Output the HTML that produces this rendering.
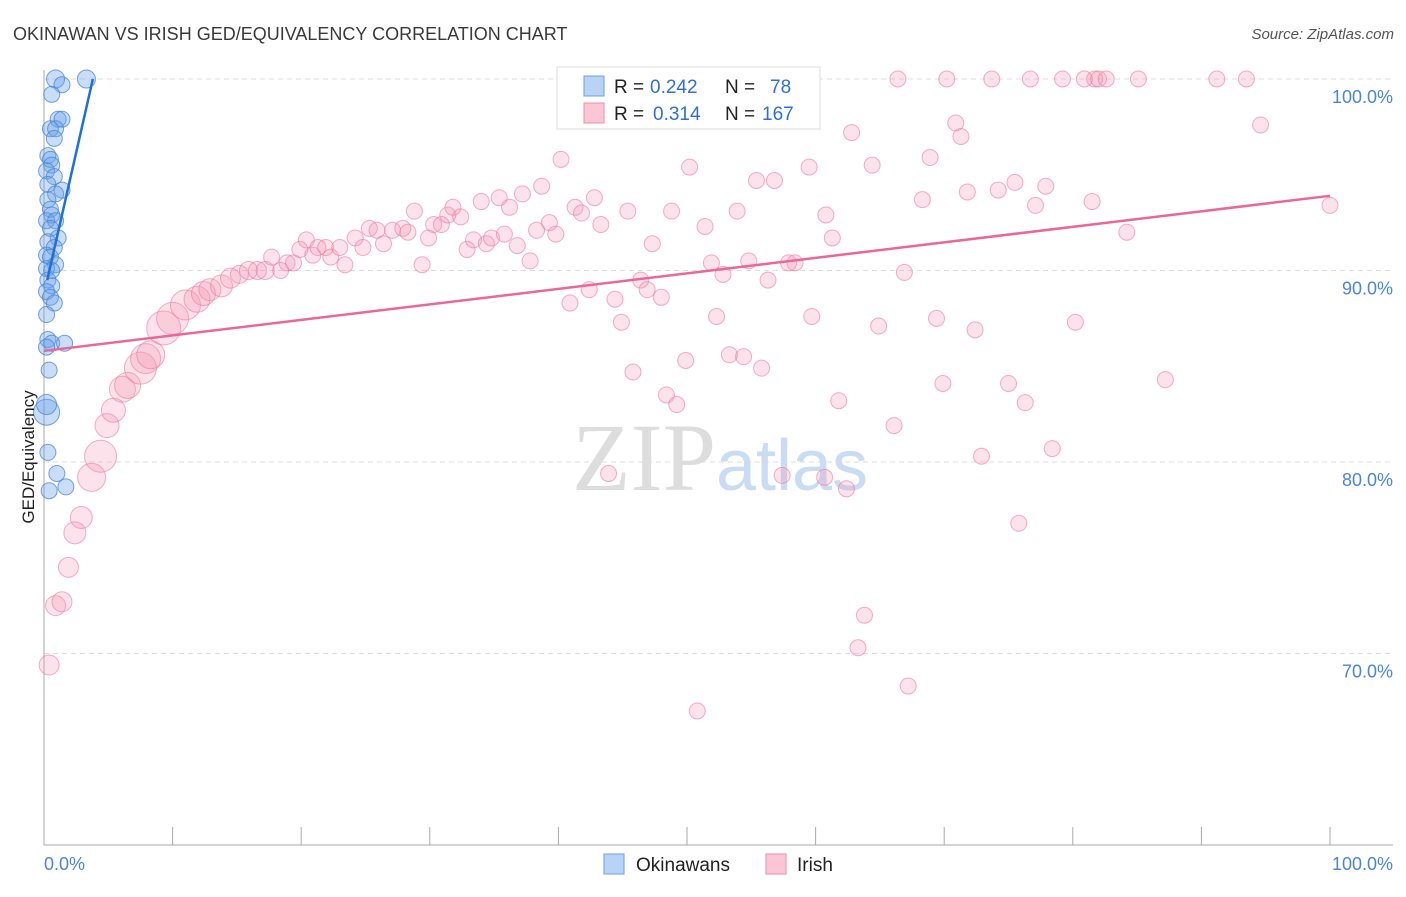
<!DOCTYPE html>
<html><head><meta charset="utf-8"><style>
body{margin:0;background:#fff;font-family:"Liberation Sans",sans-serif}
</style></head><body>
<svg width="1406" height="892" viewBox="0 0 1406 892" xmlns="http://www.w3.org/2000/svg" font-family="Liberation Sans, sans-serif">
<text x="13" y="40" font-size="18" fill="#3a3a3a">OKINAWAN VS IRISH GED/EQUIVALENCY CORRELATION CHART</text>
<text x="1394" y="39" font-size="15" fill="#555" text-anchor="end" font-style="italic">Source: ZipAtlas.com</text>
<g id="grid"></g>
<text x="720" y="490" font-size="96" text-anchor="middle" fill="#ddd" font-family="Liberation Serif, serif">ZIP<tspan fill="#c9dcf3" font-family="Liberation Sans, sans-serif" font-size="72">atlas</tspan></text>
<g id="pts"></g>
<g id="lines"></g>
<text transform="translate(34,457) rotate(-90)" font-size="17" fill="#222" text-anchor="middle">GED/Equivalency</text>
<g>
<rect x="557" y="67" width="263" height="62" fill="#fff" stroke="#ddd"/>
<rect x="584" y="76" width="20" height="20" fill="#b8d3f5" stroke="#6aa1e3"/>
<rect x="584" y="103" width="20" height="20" fill="#fbc6d6" stroke="#f08cab"/>
<text x="614" y="93" font-size="19" fill="#222">R =</text>
<text x="650" y="93" font-size="19" fill="#2f6fd6">0.242</text>
<text x="725" y="93" font-size="19" fill="#222">N =</text>
<text x="770" y="93" font-size="19" fill="#2f6fd6">78</text>
<text x="614" y="120" font-size="19" fill="#222">R =</text>
<text x="653" y="120" font-size="19" fill="#2f6fd6">0.314</text>
<text x="725" y="120" font-size="19" fill="#222">N =</text>
<text x="762" y="120" font-size="19" fill="#2f6fd6">167</text>
</g>
<g>
<rect x="604" y="854" width="20" height="20" fill="#b8d3f5" stroke="#6aa1e3"/>
<text x="636" y="871" font-size="19" fill="#222">Okinawans</text>
<rect x="766" y="854" width="20" height="20" fill="#fbc6d6" stroke="#f08cab"/>
<text x="797" y="871" font-size="19" fill="#222">Irish</text>
</g>
</svg>
<script>
const yTicks=[100,90,80,70];
const yTickLabels=["100.0%","90.0%","80.0%","70.0%"];
const xTickLabels=["0.0%","100.0%"];
const blueX=[0.9,1.4,3.3,0.6,1.1,1.4,0.5,0.9,0.8,0.3,0.5,0.6,0.2,0.8,0.3,1.4,0.9,0.3,0.5,0.6,0.2,0.9,0.5,1.1,0.3,0.8,0.2,0.5,0.9,0.2,0.6,0.3,0.6,0.2,0.5,0.8,0.2,0.3,0.6,0.2,1.6,0.4,0.2,0.3,1.0,1.7,0.4,0.2];
const blueY=[100,99.7,100,99.2,97.9,97.9,97.4,97.4,96.9,96.0,95.8,95.5,95.2,94.9,94.5,94.2,94.0,93.7,93.2,92.9,92.6,92.6,92.2,91.7,91.5,91.2,90.8,90.7,90.3,90.1,90.0,89.5,89.2,88.9,88.6,88.3,87.7,86.4,86.2,86.0,86.2,84.8,82.6,80.5,79.4,78.7,78.5,83.0];
const blueR=[9,8,9,8,8,8,8,8,8,8,8,8,8,8,8,8,8,8,8,8,8,8,8,8,8,8,8,8,8,8,8,8,8,8,8,8,8,8,8,8,8,8,13,8,8,8,8,10];
const pinkX=[0.4,0.9,1.4,1.9,2.4,2.9,3.7,4.4,4.9,5.4,6.1,6.5,7.5,7.9,8.3,9.3,10.0,11.0,11.9,12.4,12.9,13.8,14.5,15.2,15.9,16.6,17.2,17.7,18.4,18.9,19.4,19.9,20.4,20.9,21.3,21.9,22.3,23.0,23.4,24.2,24.8,25.3,25.9,26.4,27.1,27.9,28.3,28.8,29.4,29.9,30.3,30.9,31.4,31.8,32.4,32.9,33.4,34.0,34.4,34.8,35.4,35.8,36.2,36.8,37.2,37.8,38.3,38.7,39.3,39.8,40.2,40.9,41.3,41.8,42.4,42.8,43.3,43.9,44.4,44.9,45.4,45.8,46.4,46.9,47.3,48.0,48.4,48.8,49.2,49.9,50.2,50.8,51.4,51.9,52.3,52.8,53.3,53.9,54.4,54.8,55.4,55.8,56.3,56.8,57.4,57.9,58.4,59.0,59.5,59.7,60.7,60.8,61.3,61.8,62.4,62.8,63.3,63.8,64.4,64.9,66.1,66.4,66.9,67.2,68.3,68.9,69.4,69.9,70.2,70.9,71.3,71.8,72.4,72.9,73.7,74.2,75.0,75.5,75.8,76.3,76.7,77.1,77.9,78.4,79.2,80.2,80.9,81.5,81.7,82.0,82.6,84.2,85.1,87.2,91.2,93.5,94.6,100];
const pinkY=[69.4,72.5,72.7,74.5,76.3,77.1,79.2,80.3,81.9,82.7,83.8,84.0,84.9,85.4,85.6,87.0,87.5,88.2,88.5,88.8,89.0,89.2,89.6,89.8,90.0,90.0,90.0,90.7,90.0,90.4,90.4,91.1,91.6,90.8,91.2,91.2,90.7,91.2,90.3,91.7,91.2,92.2,92.1,91.4,92.1,92.2,92.0,93.1,90.3,91.7,92.4,92.4,92.9,93.3,92.8,91.1,91.6,93.6,91.4,91.7,93.8,91.9,93.3,91.3,94.0,90.5,92.1,94.4,92.5,91.9,95.8,88.3,93.3,93.0,89.0,93.8,92.4,79.4,88.5,87.3,93.1,84.7,89.5,89.0,91.4,88.6,83.5,93.1,83.0,85.3,95.4,67.0,92.3,90.4,87.6,89.8,85.6,93.1,85.5,90.5,94.7,84.9,89.5,94.7,79.3,90.4,90.4,100,95.4,87.6,79.2,92.9,91.7,83.2,78.6,97.2,70.3,72.0,95.5,87.1,81.9,100,89.9,68.3,93.7,95.9,87.5,84.1,100,97.7,97.0,94.1,86.9,80.3,100,94.2,84.1,94.6,76.8,83.1,100,93.4,94.4,80.7,100,87.3,100,93.6,100,100,100,92.0,100,84.3,100,100,97.6,93.4];
const pinkR=[10,10,10,10,11,11,14,16,12,12,13,13,16,15,14,17,16,15,13,12,11,11,10,9,9,9,9];
const xs=v=>44+v*12.86, ys=v=>79+(100-v)*19.15;
const NS="http://www.w3.org/2000/svg";
function mk(t,a,p){const e=document.createElementNS(NS,t);for(const k in a)e.setAttribute(k,a[k]);p.appendChild(e);return e;}
const grid=document.getElementById('grid');
yTicks.forEach((t,i)=>{
 const l=mk('line',{x1:44,x2:1393,y1:ys(t),y2:ys(t),stroke:'#ddd','stroke-dasharray':'5,4'},grid);
 
 
 const tx=mk('text',{x:1393,y:ys(t)+24,'font-size':18,fill:'#4a86d8','text-anchor':'end'},grid);
 tx.textContent=yTickLabels[i];
 
 
});
const ax=mk('line',{x1:44,x2:1393,y1:845,y2:845,stroke:'#aaa'},grid);


const ay=mk('line',{x1:44,x2:44,y1:70,y2:845,stroke:'#aaa'},grid);


for(let i=0;i<=10;i++){const tk=mk('line',{x1:xs(i*10),x2:xs(i*10),y1:827,y2:845,stroke:'#aaa'},grid);
 
 }
[[0,'start',44],[100,'end',1393]].forEach((d,i)=>{const t=mk('text',{x:d[2],y:870,'font-size':18,fill:'#4a86d8','text-anchor':d[1]},grid);t.textContent=xTickLabels[i];
 
 });
const pts=document.getElementById('pts');
pinkX.forEach((x,i)=>{const c=mk('circle',{cx:xs(x),cy:ys(pinkY[i]),r:pinkR[i]||8,fill:'rgba(245,150,180,0.28)',stroke:'rgba(238,120,160,0.6)','stroke-width':1},pts);
 
 });
blueX.forEach((x,i)=>{const c=mk('circle',{cx:xs(x),cy:ys(blueY[i]),r:blueR[i],fill:'rgba(100,160,230,0.35)',stroke:'rgba(70,130,220,0.75)','stroke-width':1},pts);
 
 });
const lines=document.getElementById('lines');
const pl=mk('line',{x1:xs(0),y1:ys(85.8),x2:xs(100),y2:ys(93.9),stroke:'#e8689a','stroke-width':2.5},lines);


const bl=mk('line',{x1:xs(0.25),y1:ys(89.5),x2:xs(3.8),y2:ys(100),stroke:'#1f6fdc','stroke-width':2.5},lines);


</script>
</body></html>
